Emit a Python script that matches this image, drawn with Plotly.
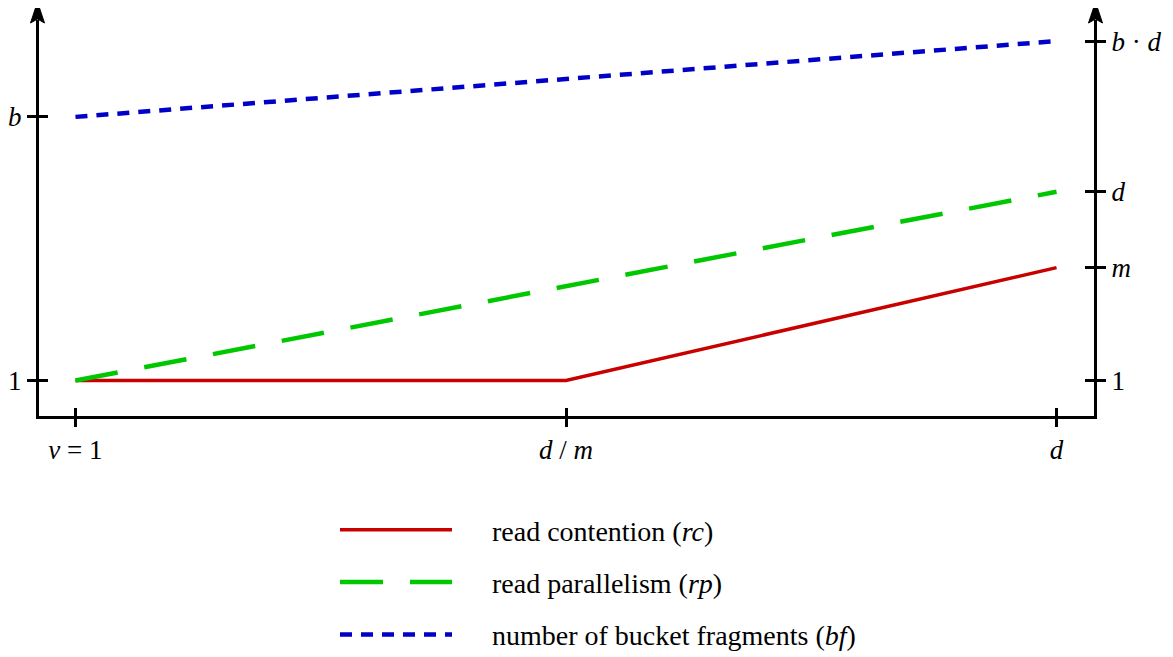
import plotly.graph_objects as go

# x categories (positions along the v axis)
x_pos = [0, 1, 2]
x_labels = ["<i>v</i> = 1", "<i>d</i> / <i>m</i>", "<i>d</i>"]

# symbolic y levels (arbitrary linear units)
Y_ONE = 1.0
Y_M = 4.77
Y_D = 7.3
Y_B = 9.8
Y_BD = 12.33

left_tick_vals = [Y_ONE, Y_B]
left_tick_text = ["1", "<i>b</i>"]
right_tick_vals = [Y_ONE, Y_M, Y_D, Y_BD]
right_tick_text = ["1", "<i>m</i>", "<i>d</i>", "<i>b</i> · <i>d</i>"]

# series
rc_x = [0, 1, 2]
rc_y = [Y_ONE, Y_ONE, Y_M]
rp_x = [0, 2]
rp_y = [Y_ONE, Y_D]
bf_x = [0, 2]
bf_y = [Y_B, Y_BD]

names = ["read contention (<i>rc</i>)",
         "read parallelism (<i>rp</i>)",
         "number of bucket fragments (<i>bf</i>)"]
GAP = "\u00a0" * 5

RED = "rgb(200,0,0)"
GREEN = "rgb(0,200,0)"
BLUE = "rgb(0,0,200)"
FONT = "Liberation Serif, Times New Roman, serif"
FS_TICK = 27
FS_LEG = 28

OFF = 8                      # page body margin
W, H = 1173 - OFF, 657 - OFF
LW = 3                       # axis line width
# plot-area edges in screen pixels
PL, PR = 37 + LW / 2, 1096 - LW / 2
PT, PB = 20, 418 - LW / 2
px_per_x = (1057 - 75) / 2.0
px_per_y = 30.0
x_range = [-(75 - PL) / px_per_x, 2 + (PR - 1057) / px_per_x]
y_range = [Y_ONE - (PB - 381) / px_per_y, Y_ONE + (381 - PT) / px_per_y]

fig = go.Figure()
fig.add_trace(go.Scatter(x=rc_x, y=rc_y, mode="lines", name=GAP + names[0], legendgroup="a",
                         line=dict(color=RED, width=3.5)))
fig.add_trace(go.Scatter(x=rp_x, y=rp_y, mode="lines", name=GAP + names[1], legendgroup="b",
                         line=dict(color=GREEN, width=4.5, dash="43px,27px")))
fig.add_trace(go.Scatter(x=bf_x, y=bf_y, mode="lines", name=GAP + names[2], legendgroup="c",
                         line=dict(color=BLUE, width=4.5, dash="12px,9px")))
# empty helper traces so that the overlay (tick-only) axes are drawn
for xa, ya in (("x2", "y"), ("x", "y2"), ("x", "y3"), ("x", "y4")):
    fig.add_trace(go.Scatter(x=[None], y=[None], xaxis=xa, yaxis=ya, mode="lines",
                             showlegend=False, hoverinfo="skip"))

tickfont = dict(family=FONT, size=FS_TICK, color="black")
common_y = dict(range=y_range, showgrid=False, zeroline=False, fixedrange=True)

fig.update_layout(
    width=W, height=H,
    margin=dict(l=PL - OFF, r=W - (PR - OFF), t=PT - OFF, b=H - (PB - OFF), pad=0,
                autoexpand=False),
    plot_bgcolor="white", paper_bgcolor="white",
    showlegend=True,
    legend=dict(xref="container", yref="container", x=327 / W, y=1 - 497 / H,
                xanchor="left", yanchor="top",
                font=dict(family=FONT, size=FS_LEG, color="black"),
                itemwidth=112, tracegroupgap=13, traceorder="grouped",
                bgcolor="rgba(0,0,0,0)"),
    xaxis=dict(range=x_range, tickvals=x_pos, ticktext=x_labels, showgrid=False,
               zeroline=False, showline=True, linewidth=LW, linecolor="black",
               ticks="outside", ticklen=8, tickwidth=3, tickcolor="black",
               tickfont=tickfont, ticklabelstandoff=0, fixedrange=True),
    xaxis2=dict(range=x_range, overlaying="x", tickvals=x_pos, showticklabels=False,
                showgrid=False, zeroline=False, ticks="inside", ticklen=8, tickwidth=3,
                tickcolor="black", fixedrange=True, side="bottom"),
    yaxis=dict(**common_y, tickvals=left_tick_vals, ticktext=left_tick_text,
               showline=True, linewidth=LW, linecolor="black",
               ticks="outside", ticklen=9, tickwidth=3, tickcolor="black",
               tickfont=tickfont, ticklabelstandoff=0),
    yaxis2=dict(**common_y, overlaying="y", side="right", tickvals=right_tick_vals,
                ticktext=right_tick_text, showline=True, linewidth=LW, linecolor="black",
                ticks="outside", ticklen=9, tickwidth=3, tickcolor="black",
                tickfont=tickfont, ticklabelstandoff=0),
    yaxis3=dict(**common_y, overlaying="y", side="left", tickvals=left_tick_vals,
                showticklabels=False, ticks="inside", ticklen=9, tickwidth=3,
                tickcolor="black"),
    yaxis4=dict(**common_y, overlaying="y", side="right", tickvals=right_tick_vals,
                showticklabels=False, ticks="inside", ticklen=9, tickwidth=3,
                tickcolor="black"),
)

# arrowheads on top of the two vertical axes
for xp, dx in ((0, -LW / 2), (1, LW / 2)):
    path = (f"M {dx},18 L {dx - 7},-3 L {dx},1 L {dx + 7},-3 Z")
    fig.add_shape(type="path", xref="paper", yref="paper", xsizemode="pixel",
                  ysizemode="pixel", xanchor=xp, yanchor=1, path=path,
                  fillcolor="black", line=dict(color="black", width=1))

fig.write_html("out.html")
